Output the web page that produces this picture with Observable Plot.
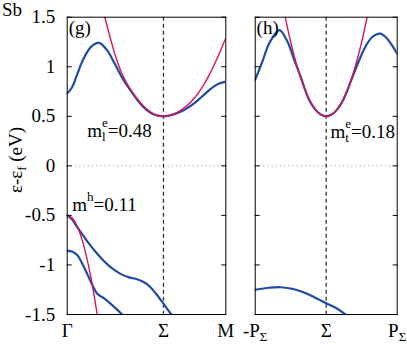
<!DOCTYPE html>
<html><head><meta charset="utf-8">
<script src="https://cdn.jsdelivr.net/npm/d3@7"></script>
<script src="https://cdn.jsdelivr.net/npm/@observablehq/plot@0.6"></script>
<style>
body{margin:0;background:#fff;}
#wrap{position:relative;width:407px;height:344px;font-family:"Liberation Serif",serif;color:#000;overflow:hidden;}
#wrap svg text{font-family:"Liberation Serif",serif !important;}
#left,#right{position:absolute;top:0;}
#left{left:0}#right{left:240px}
#sb{position:absolute;left:2px;top:-1px;font-size:19px;line-height:21px;}
#ylab{position:absolute;left:15px;top:160px;font-size:19px;white-space:nowrap;transform:translate(-50%,-50%) rotate(-90deg);line-height:21px;}
#ylab sub{font-size:13px;vertical-align:-4px;line-height:0;}
</style></head><body>
<div id="wrap">
<div id="left"></div><div id="right"></div>
<div id="sb">Sb</div>
<div id="ylab">ε-ε<sub>f</sub> (eV)</div>
</div>
<script>
// ---- data ----
const yTicks = [-1.5, -1, -0.5, 0, 0.5, 1, 1.5];
const yTickLabels = ["-1.5", "-1", "-0.5", "0", "0.5", "1", "1.5"];
const gSigma = 0.607;
const gTicks = [0, gSigma, 1];
const gTickLabels = ["Γ", "Σ", "M"];
const hTicks = [-1, 0, 1];
const hTickLabels = ["-P_Σ", "Σ", "P_Σ"];

// panel (g): Γ – Σ – M
const gCondK = [0, 0.03, 0.06, 0.1, 0.15, 0.2, 0.25, 0.3, 0.35, 0.4, 0.45, 0.5, 0.55, 0.607, 0.65, 0.7, 0.75, 0.8, 0.85, 0.9, 0.95, 1.0];
const gCondE = [0.73, 0.79, 0.91, 1.07, 1.2, 1.24, 1.17, 1.03, 0.88, 0.76, 0.65, 0.565, 0.515, 0.5, 0.51, 0.535, 0.575, 0.63, 0.7, 0.77, 0.825, 0.85];
const gElK = [0.237, 0.27, 0.3, 0.33, 0.36, 0.4, 0.45, 0.5, 0.55, 0.607, 0.65, 0.7, 0.75, 0.8, 0.85, 0.9, 0.95, 1.0];
const gElE = [1.5, 1.3, 1.13, 0.99, 0.88, 0.77, 0.66, 0.575, 0.52, 0.5, 0.51, 0.545, 0.6, 0.68, 0.79, 0.93, 1.1, 1.29];
const gVal1K = [0, 0.03, 0.06, 0.09, 0.126, 0.18, 0.231, 0.28, 0.336, 0.39, 0.441, 0.49, 0.525, 0.56, 0.607, 0.656];
const gVal1E = [-0.5, -0.54, -0.61, -0.68, -0.76, -0.87, -0.96, -1.03, -1.09, -1.125, -1.145, -1.18, -1.225, -1.29, -1.39, -1.5];
const gVal2K = [0, 0.03, 0.063, 0.09, 0.126, 0.158, 0.19, 0.231, 0.28, 0.347];
const gVal2E = [-0.855, -0.865, -0.9, -0.97, -1.09, -1.2, -1.29, -1.335, -1.4, -1.5];
const gHoleK = [0, 0.03, 0.06, 0.09, 0.12, 0.15, 0.17, 0.189];
const gHoleE = [-0.5, -0.525, -0.6, -0.727, -0.903, -1.13, -1.31, -1.5];
const gLabels = ["m_l^e=0.48", "m^h=0.11", "(g)"];
const gLabelK = [0.126, 0.0315, 0.01];
const gLabelE = [0.289, -0.451, 1.335];

// panel (h): -PΣ – Σ – PΣ
const hCondK = [-1, -0.9, -0.8, -0.66, -0.55, -0.45, -0.35, -0.25, -0.15, -0.07, 0, 0.07, 0.15, 0.25, 0.35, 0.45, 0.55, 0.65, 0.76, 0.85, 0.95, 1];
const hCondE = [0.87, 1.05, 1.24, 1.37, 1.26, 1.07, 0.88, 0.68, 0.565, 0.515, 0.5, 0.515, 0.565, 0.68, 0.86, 1.04, 1.2, 1.3, 1.335, 1.29, 1.19, 1.13];
const hElK = [-0.577, -0.5, -0.4, -0.3, -0.2, -0.1, 0, 0.1, 0.2, 0.3, 0.4, 0.5, 0.577];
const hElE = [1.5, 1.25, 0.98, 0.77, 0.62, 0.53, 0.5, 0.53, 0.62, 0.77, 0.98, 1.25, 1.5];
const hValK = [-1, -0.8, -0.64, -0.45, -0.27, -0.1, 0, 0.15, 0.27];
const hValE = [-1.25, -1.23, -1.225, -1.245, -1.29, -1.35, -1.386, -1.44, -1.5];
const hLabels = ["m_t^e=0.18", "(h)"];
const hLabelK = [0.06, -0.98];
const hLabelE = [0.283, 1.335];

// ---- helpers ----
const BLUE = "#1f4aa6", RED = "#d8145a";
const FS = 19;
const zip = (K, E) => K.map((k, i) => ({k, e: E[i]}));
const ann = (L, K, E) => L.map((label, i) => ({label, k: K[i], e: E[i]}));
const yFmt = d => yTickLabels[yTicks.indexOf(d)];
const blank = () => "";

function panel({width, ml, mr, domain, sigma, ticks, tickLabels, bands, els, labels}) {
  const xFmt = d => tickLabels[ticks.indexOf(d)];
  return Plot.plot({
    width, height: 344, marginLeft: ml, marginRight: mr, marginTop: 16.7, marginBottom: 30,
    x: {domain, label: null}, y: {domain: [-1.5, 1.5], label: null},
    style: {fontFamily: "Liberation Serif", fontSize: FS + "px", background: "transparent", color: "#000", overflow: "visible"},
    marks: [
      Plot.ruleY([0], {stroke: "#a0a0a0", strokeDasharray: "1.2,3", strokeWidth: 1}),
      Plot.ruleX([sigma], {stroke: "#333", strokeDasharray: "4,3", strokeWidth: 1.3}),
      ...bands.map(b => Plot.line(b, {x: "k", y: "e", stroke: BLUE, strokeWidth: 2.2, curve: "catmull-rom", clip: true})),
      ...els.map(b => Plot.line(b, {x: "k", y: "e", stroke: RED, strokeWidth: 1.4, curve: "catmull-rom", clip: true})),
      Plot.text(labels, {x: "k", y: "e", text: "label", textAnchor: "start", lineAnchor: "bottom", fontSize: FS}),
      Plot.frame({stroke: "#000", strokeWidth: 1}),
      Plot.axisY(yTicks, {anchor: "left", tickSize: 5, dx: 5, tickFormat: blank, label: null}),
      Plot.axisY(yTicks, {anchor: "right", tickSize: 5, dx: -5, tickFormat: blank, label: null}),
      ...(ml > 40 ? [Plot.axisY(yTicks, {anchor: "left", tickSize: 0, tickPadding: 12, tickFormat: yFmt, fontSize: FS, label: null})] : []),
      Plot.axisX(ticks, {anchor: "bottom", tickSize: 0, tickPadding: 9, tickFormat: xFmt, fontSize: FS, label: null})
    ]
  });
}

const left = panel({
  width: 240, ml: 66.7, mr: 14.7, domain: [0, 1], sigma: gSigma, ticks: gTicks, tickLabels: gTickLabels,
  bands: [zip(gCondK, gCondE), zip(gVal1K, gVal1E), zip(gVal2K, gVal2E)],
  els: [zip(gElK, gElE), zip(gHoleK, gHoleE)],
  labels: ann(gLabels, gLabelK, gLabelE)
});
const right = panel({
  width: 167, ml: 14.7, mr: 10.3, domain: [-1, 1], sigma: 0, ticks: hTicks, tickLabels: hTickLabels,
  bands: [zip(hCondK, hCondE), zip(hValK, hValE)],
  els: [zip(hElK, hElE)],
  labels: ann(hLabels, hLabelK, hLabelE)
});
document.getElementById("left").appendChild(left);
document.getElementById("right").appendChild(right);

// rich text: "_x" subscript, "^x" superscript, stacked when adjacent
function rich(el, s) {
  const ns = "http://www.w3.org/2000/svg";
  const SM = 13, UP = -10, DN = 4;
  el.textContent = "";
  let cur = 0, i = 0, padDx = 0;
  const mk = (txt, size) => { const t = document.createElementNS(ns, "tspan"); t.textContent = txt; if (size) t.setAttribute("font-size", size); el.appendChild(t); return t; };
  while (i < s.length) {
    if (s[i] === "_" || s[i] === "^") {
      const group = [];
      while (i < s.length && (s[i] === "_" || s[i] === "^")) { group.push([s[i], s[i + 1]]); i += 2; }
      let maxW = 0, lastW = 0, prevW = 0;
      group.forEach(([type, ch], j) => {
        const off = type === "^" ? UP : DN;
        const t = mk(ch, SM);
        t.setAttribute("dy", off - cur); cur = off;
        if (j > 0) t.setAttribute("dx", -prevW);
        else if (padDx) t.setAttribute("dx", padDx);
        const w = t.getComputedTextLength();
        prevW = w; lastW = w; maxW = Math.max(maxW, w);
      });
      padDx = maxW - lastW;
    } else {
      let run = "";
      while (i < s.length && s[i] !== "_" && s[i] !== "^") run += s[i++];
      const t = mk(run);
      if (cur) { t.setAttribute("dy", -cur); cur = 0; }
      if (padDx) { t.setAttribute("dx", padDx); padDx = 0; }
    }
  }
}
for (const svg of [left, right]) {
  svg.querySelectorAll("text").forEach(t => {
    const s = t.textContent;
    if (/[_^]/.test(s)) rich(t, s);
  });
}
</script>
</body></html>
